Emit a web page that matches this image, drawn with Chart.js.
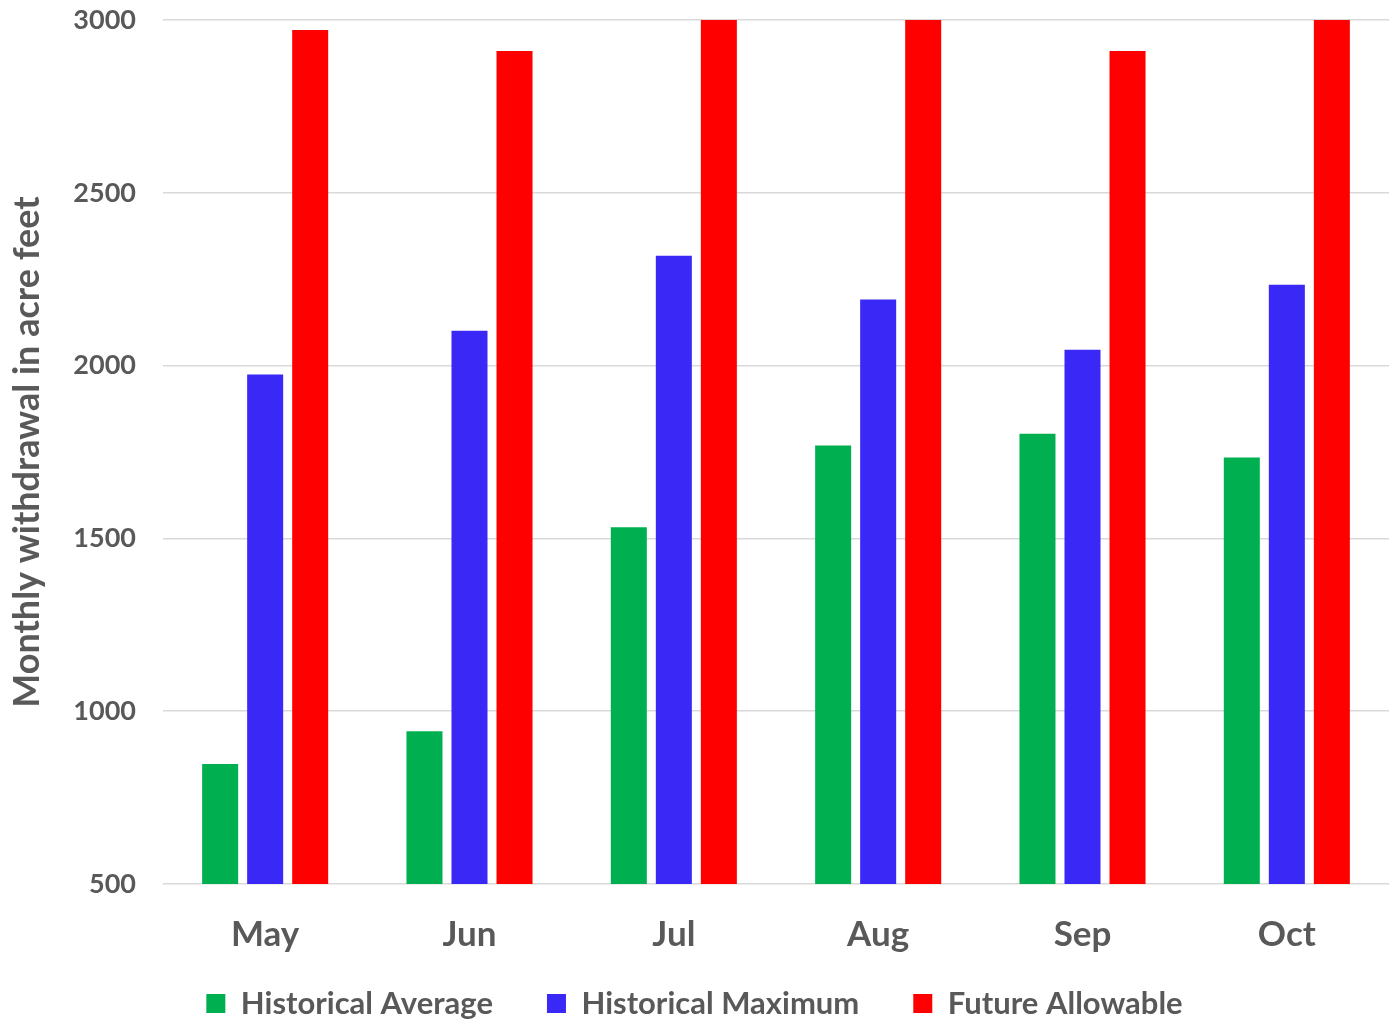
<!DOCTYPE html>
<html>
<head>
<meta charset="utf-8">
<script src="https://cdn.jsdelivr.net/npm/chart.js@4/dist/chart.umd.min.js"></script>
<style>
  html, body { margin: 0; padding: 0; background: #ffffff; }
  #wrap { width: 1391px; height: 1021px; position: relative; }
</style>
</head>
<body>
<div id="wrap"><canvas id="chart" width="1391" height="1021"></canvas></div>
<script>
// Monthly withdrawal (acre feet)
const months = ['May', 'Jun', 'Jul', 'Aug', 'Sep', 'Oct'];
const historicalAverage = [847, 942, 1532, 1769, 1803, 1734];
const historicalMaximum = [1974, 2101, 2318, 2191, 2046, 2234];
const futureAllowable = [2971, 2910, 3000, 3000, 2910, 3000];
const yTicks = [500, 1000, 1500, 2000, 2500, 3000];

const textGray = '#595959';
const fontFamily = 'Lato, "Open Sans", sans-serif';

const ctx = document.getElementById('chart').getContext('2d');
new Chart(ctx, {
  type: 'bar',
  data: {
    labels: months,
    datasets: [
      { label: 'Historical Average', data: historicalAverage, backgroundColor: '#00B050', borderWidth: 0 },
      { label: 'Historical Maximum', data: historicalMaximum, backgroundColor: '#3A28F6', borderWidth: 0 },
      { label: 'Future Allowable', data: futureAllowable, backgroundColor: '#FF0000', borderWidth: 0 }
    ]
  },
  options: {
    responsive: false,
    animation: false,
    devicePixelRatio: 1,
    categoryPercentage: 0.661,
    barPercentage: 0.8,
    layout: { padding: { top: 20, right: 2, left: 0, bottom: -8 } },
    plugins: {
      tooltip: { enabled: false },
      legend: {
        position: 'bottom',
        labels: {
          color: textGray,
          font: { family: fontFamily, size: 31, weight: 'bold' },
          boxWidth: 19,
          boxHeight: 19,
          padding: 54
        }
      }
    },
    scales: {
      x: {
        grid: { display: false, drawTicks: false },
        border: { display: false },
        ticks: {
          color: textGray,
          font: { family: fontFamily, size: 35, weight: 'bold' },
          mirror: true,
          padding: -72
        },
        afterFit: (scale) => { scale.height = 50; }
      },
      y: {
        min: 500,
        max: 3000,
        afterBuildTicks: (scale) => { scale.ticks = yTicks.map(v => ({ value: v })); },
        grid: { color: '#D9D9D9', lineWidth: 1.5, drawTicks: true, tickLength: 27, tickColor: 'rgba(0,0,0,0)' },
        border: { display: false },
        ticks: {
          color: textGray,
          font: { family: fontFamily, size: 27, weight: 'bold' },
          padding: 0,
          callback: (value) => String(value)
        },
        title: {
          display: true,
          text: 'Monthly withdrawal in acre feet',
          color: textGray,
          font: { family: fontFamily, size: 36, weight: 'bold' },
          padding: { top: 6, bottom: 0 }
        },
        afterFit: (scale) => { scale.width = 163; }
      }
    }
  }
});
</script>
</body>
</html>
